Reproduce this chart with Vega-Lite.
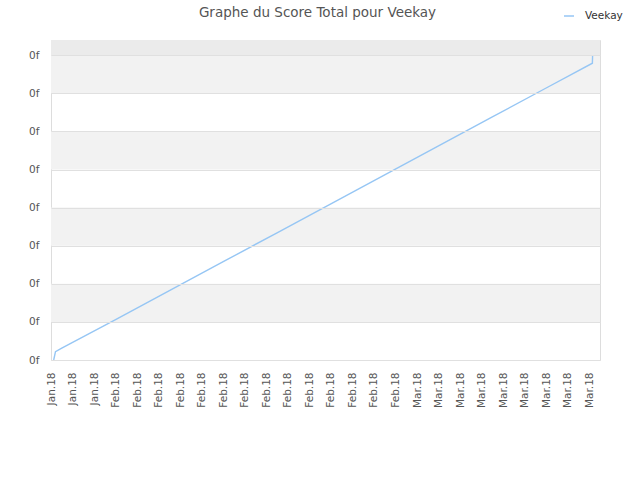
{
  "$schema": "https://vega.github.io/schema/vega-lite/v6.json",
  "width": 549,
  "height": 320,
  "autosize": {"type": "none"},
  "padding": {"left": 51, "top": 40, "right": 40, "bottom": 120},
  "background": "white",
  "title": {
    "text": "Graphe du Score Total pour Veekay",
    "font": "DejaVu Sans",
    "fontSize": 13.5,
    "fontWeight": "normal",
    "color": "#555555",
    "anchor": "middle",
    "frame": "group",
    "dx": -8,
    "dy": 26,
    "offset": 17
  },
  "config": {
    "view": {"stroke": "#dddddd", "strokeWidth": 1},
    "axis": {"labelFont": "DejaVu Sans", "labelColor": "#555555", "labelFontSize": 10.5}
  },
  "datasets": {
    "bands": [
      {"lo": 1, "hi": 2, "band": "alt"},
      {"lo": 3, "hi": 4, "band": "alt"},
      {"lo": 5, "hi": 6, "band": "alt"},
      {"lo": 7, "hi": 8, "band": "alt"},
      {"lo": 8, "hi": 8.4, "band": "top"}
    ],
    "scores": [
      {"date": "2018-01-26T06:00:00", "score": 0, "name": "Veekay"},
      {"date": "2018-01-26T10:00:00", "score": 0.22, "name": "Veekay"},
      {"date": "2018-01-27T00:00:00", "score": 0.31, "name": "Veekay"},
      {"date": "2018-02-01T00:00:00", "score": 1.06, "name": "Veekay"},
      {"date": "2018-02-06T00:00:00", "score": 1.82, "name": "Veekay"},
      {"date": "2018-02-11T00:00:00", "score": 2.58, "name": "Veekay"},
      {"date": "2018-02-16T00:00:00", "score": 3.34, "name": "Veekay"},
      {"date": "2018-02-21T00:00:00", "score": 4.10, "name": "Veekay"},
      {"date": "2018-02-26T00:00:00", "score": 4.86, "name": "Veekay"},
      {"date": "2018-03-03T00:00:00", "score": 5.62, "name": "Veekay"},
      {"date": "2018-03-08T00:00:00", "score": 6.38, "name": "Veekay"},
      {"date": "2018-03-13T00:00:00", "score": 7.14, "name": "Veekay"},
      {"date": "2018-03-17T07:00:00", "score": 7.79, "name": "Veekay"},
      {"date": "2018-03-17T07:30:00", "score": 8.0, "name": "Veekay"}
    ]
  },
  "layer": [
    {
      "data": {"name": "bands"},
      "mark": {"type": "rect"},
      "encoding": {
        "y": {
          "field": "lo",
          "type": "quantitative",
          "scale": {"domain": [0, 8.4], "nice": false, "zero": false},
          "axis": {
            "title": null,
            "values": [0, 1, 2, 3, 4, 5, 6, 7, 8],
            "labelExpr": "'0f'",
            "grid": true,
            "gridColor": "#e0e0e0",
            "domain": false,
            "ticks": true,
            "tickColor": "transparent",
            "tickSize": 5,
            "labelPadding": 7,
            "zindex": 1
          }
        },
        "y2": {"field": "hi"},
        "fill": {"field": "band", "type": "nominal", "scale": {"domain": ["alt", "top"], "range": ["#f2f2f2", "#ebebeb"]}, "legend": null}
      }
    },
    {
      "data": {"name": "scores"},
      "mark": {"type": "line", "strokeWidth": 1.4, "interpolate": "linear"},
      "encoding": {
        "x": {
          "field": "date",
          "type": "temporal",
          "scale": {"domain": [{"year": 2018, "month": 1, "date": 26}, {"year": 2018, "month": 3, "date": 18}]},
          "axis": {
            "title": null,
            "format": "%b.%y",
            "labelAngle": -90,
            "labelAlign": "right",
            "labelBaseline": "middle",
            "grid": false,
            "domain": false,
            "ticks": true,
            "tickColor": "transparent",
            "tickSize": 5,
            "labelPadding": 7,
            "labelOverlap": false,
            "labelFlush": false,
            "values": [
              {"year": 2018, "month": 1, "date": 26},
              {"year": 2018, "month": 1, "date": 28},
              {"year": 2018, "month": 1, "date": 30},
              {"year": 2018, "month": 2, "date": 1},
              {"year": 2018, "month": 2, "date": 3},
              {"year": 2018, "month": 2, "date": 5},
              {"year": 2018, "month": 2, "date": 7},
              {"year": 2018, "month": 2, "date": 9},
              {"year": 2018, "month": 2, "date": 11},
              {"year": 2018, "month": 2, "date": 13},
              {"year": 2018, "month": 2, "date": 15},
              {"year": 2018, "month": 2, "date": 17},
              {"year": 2018, "month": 2, "date": 19},
              {"year": 2018, "month": 2, "date": 21},
              {"year": 2018, "month": 2, "date": 23},
              {"year": 2018, "month": 2, "date": 25},
              {"year": 2018, "month": 2, "date": 27},
              {"year": 2018, "month": 3, "date": 1},
              {"year": 2018, "month": 3, "date": 3},
              {"year": 2018, "month": 3, "date": 5},
              {"year": 2018, "month": 3, "date": 7},
              {"year": 2018, "month": 3, "date": 9},
              {"year": 2018, "month": 3, "date": 11},
              {"year": 2018, "month": 3, "date": 13},
              {"year": 2018, "month": 3, "date": 15},
              {"year": 2018, "month": 3, "date": 17}
            ]
          }
        },
        "y": {
          "field": "score",
          "type": "quantitative",
          "scale": {"domain": [0, 8.4], "nice": false, "zero": false},
          "axis": {
            "title": null,
            "values": [0, 1, 2, 3, 4, 5, 6, 7, 8],
            "labelExpr": "'0f'",
            "grid": true,
            "gridColor": "#e0e0e0",
            "domain": false,
            "ticks": true,
            "tickColor": "transparent",
            "tickSize": 5,
            "labelPadding": 7,
            "zindex": 1
          }
        },
        "stroke": {
          "field": "name",
          "type": "nominal",
          "scale": {"range": ["#96c6f4"]},
          "legend": {
            "title": null,
            "orient": "none",
            "legendX": 512,
            "legendY": -30,
            "symbolType": "stroke",
            "symbolSize": 100,
            "symbolStrokeWidth": 1.5,
            "labelOffset": 10,
            "labelFont": "DejaVu Sans",
            "labelFontSize": 10.5,
            "labelColor": "#333333"
          }
        }
      }
    }
  ]
}
